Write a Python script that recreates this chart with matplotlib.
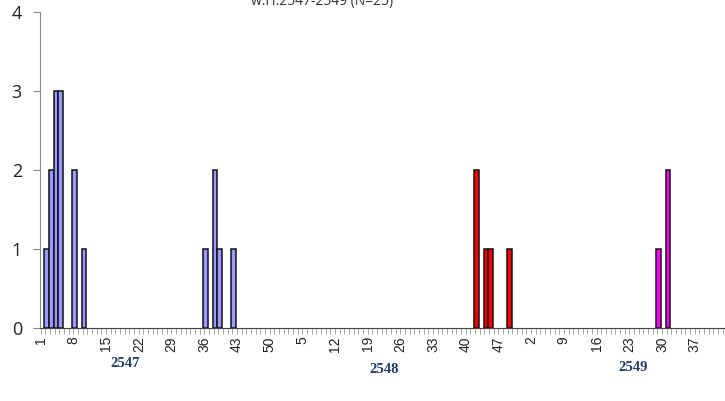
import matplotlib
matplotlib.use("Agg")
import matplotlib.pyplot as plt
from matplotlib.ticker import MultipleLocator, FixedLocator
import matplotlib.transforms as mtransforms

# Weekly case counts per Buddhist-era year
years = [2547, 2548, 2549]
weeks_in_year = [52, 52, 43]

weeks_2547 = [2, 3, 4, 5, 8, 10, 36, 38, 39, 42]
cases_2547 = [1, 2, 3, 3, 2, 1, 1, 2, 1, 1]
weeks_2548 = [42, 44, 45, 49]
cases_2548 = [2, 1, 1, 1]
weeks_2549 = [29, 31]
cases_2549 = [1, 2]

colors = ["#9999FF", "#FF0000", "#FF00FF"]
title_text = "w.H.2547-2549 (N=25)"

series = [(weeks_2547, cases_2547), (weeks_2548, cases_2548), (weeks_2549, cases_2549)]

# running offset of each year on one continuous week axis
offsets = []
acc = 0
for n in weeks_in_year:
    offsets.append(acc)
    acc += n
total_weeks = acc

fig = plt.figure(figsize=(7.25, 4.01), dpi=100)
ax = fig.add_axes([40 / 725, 73.3 / 401, 685 / 725, 315.6 / 401])

for (wk, cs), off, col in zip(series, offsets, colors):
    xs = [off + w - 1 + 0.3 for w in wk]
    ax.bar(xs, cs, width=1.0, align="center", color=col,
           edgecolor="#111111", linewidth=1.1, zorder=3)

ax.set_xlim(-0.15, total_weeks - 0.5)
ax.set_ylim(0, 4)

# y axis
ax.yaxis.set_major_locator(MultipleLocator(1))
ax.tick_params(axis="y", length=5, width=0.8, color="#888888", pad=8,
               labelsize=13, labelcolor="#222222")
for lab in ax.get_yticklabels():
    lab.set_fontfamily("Open Sans")

# x axis: a tick every week, a label every 7th week
major_pos = list(range(0, total_weeks, 7))
major_lab = []
for p in major_pos:
    for off, n in zip(offsets, weeks_in_year):
        if off <= p < off + n:
            major_lab.append(str(p - off + 1))
            break
ax.xaxis.set_major_locator(FixedLocator(major_pos))
ax.set_xticklabels(major_lab, rotation=90, fontsize=10,
                   family="Liberation Sans", color="#222222")
ax.xaxis.set_minor_locator(FixedLocator(list(range(total_weeks))))
ax.tick_params(axis="x", which="both", length=4, width=0.6,
               color="#999999", pad=2)

for s in ("top", "right"):
    ax.spines[s].set_visible(False)
ax.spines["left"].set_color("#888888")
ax.spines["left"].set_linewidth(0.8)
ax.spines["bottom"].set_color("#444444")
ax.spines["bottom"].set_linewidth(0.8)

# year captions under the week labels
trans = mtransforms.blended_transform_factory(ax.transData, ax.transAxes)
year_x = [18, 73.5, 126.8]
year_y = [-0.113, -0.132, -0.126]
for yr, xx, yy in zip(years, year_x, year_y):
    ax.text(xx, yy, str(yr), transform=trans, ha="center", va="center",
            fontsize=10.5, fontweight="bold", family="Liberation Serif",
            color="#1F3A6E")

fig.text(322 / 725, 1 - 5 / 401, title_text, ha="center", va="baseline",
         fontsize=10, family="Open Sans", color="#333333")

fig.savefig("out.png", dpi=100)
